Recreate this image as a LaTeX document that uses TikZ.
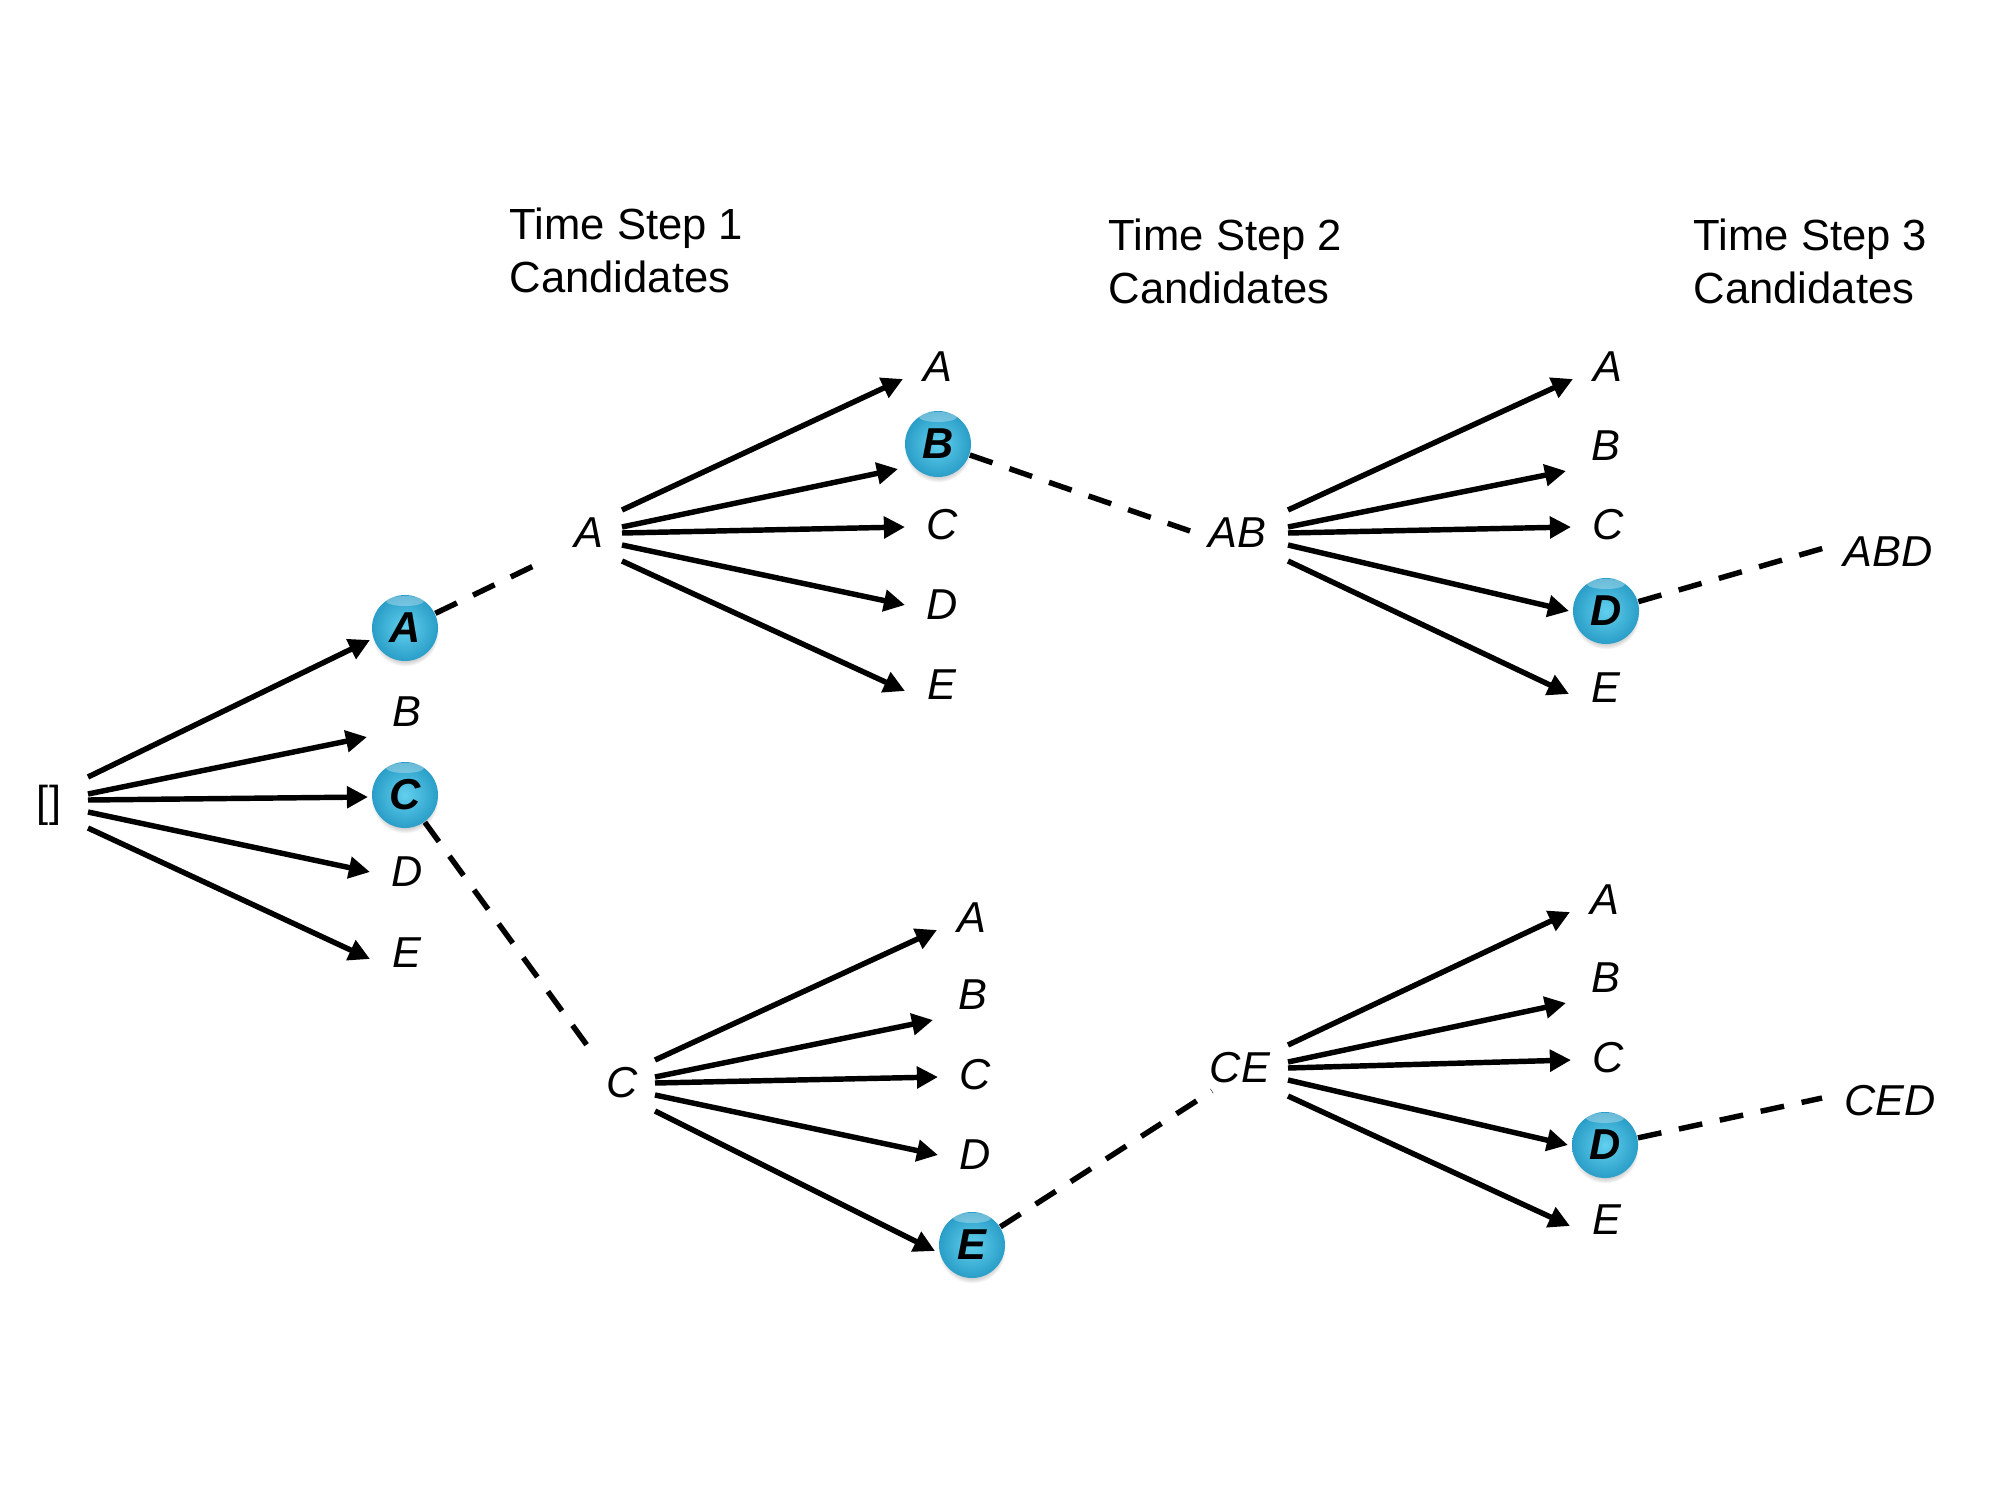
\documentclass[tikz,border=0pt]{standalone}
\usepackage{fontspec}
\setmainfont{Liberation Sans}
\usetikzlibrary{arrows.meta,calc,shadows}
\definecolor{ballin}{RGB}{98,208,238}
\definecolor{ballout}{RGB}{42,158,200}
\newcommand\fanout[8]{%
  \draw[arr] ($(#1)+(#2,#3)+(0,-23)$) -- ($(#4)+(-35,12)$);
  \draw[arr] ($(#1)+(#2,#3)+(0,-6)$) -- ($(#5)+(-40,25)$);
  \draw[arr] ($(#1)+(#2,#3)+(0,0)$) -- ($(#6)+(-37,2)$);
  \draw[arr] ($(#1)+(#2,#3)+(0,12)$) -- ($(#7)+(-37,0)$);
  \draw[arr] ($(#1)+(#2,#3)+(0,28)$) -- ($(#8)+(-37,6)$);}
\begin{document}
\begin{tikzpicture}[x=0.01cm,y=-0.01cm,
  lbl/.style={font=\fontsize{12.3}{15}\selectfont\itshape, inner sep=0pt},
  ball/.style={circle, minimum size=0.66cm, inner sep=0pt, shading=radial,
    inner color=ballin, outer color=ballout,
    circular drop shadow={shadow xshift=0pt, shadow yshift=-1.3pt, opacity=0.35, shadow scale=1.02},
    path picture={\fill[white,opacity=0.3] ([yshift=-0.06cm]path picture bounding box.north) ellipse [x radius=0.19cm, y radius=0.05cm];},
    font=\fontsize{12.3}{15}\selectfont\bfseries\itshape},
  arr/.style={line width=1.55pt, -{Triangle[length=6pt,width=6pt]}},
  dline/.style={line width=1.55pt, dash pattern=on 6.8pt off 5.1pt},
  head/.style={anchor=north west, align=left, inner sep=0pt, font=\fontsize{12.4}{15}\selectfont}]
\useasboundingbox (0,0) rectangle (2000,1500);
\fill[white] (0,0) rectangle (2000,1500);

% headers
\node[head] (h1) at (509,207) {Time Step 1\\Candidates};
\node[head] (h2) at (1108,218) {Time Step 2\\Candidates};
\node[head] (h3) at (1693,218) {Time Step 3\\Candidates};

% root
\node[lbl, font=\fontsize{12.3}{15}\selectfont] (r) at (49,805) {[]};

% column 1
\node[ball] (a1) at (405,628) {A};
\node[lbl]  (b1) at (407,712) {B};
\node[ball] (c1) at (405,795) {C};
\node[lbl]  (d1) at (407,872) {D};
\node[lbl]  (e1) at (407,953) {E};

% parents step 1
\node[lbl] (pA) at (589,533) {A};
\node[lbl] (pC) at (622,1083) {C};

% column 2 upper
\node[lbl]  (ua) at (938,367) {A};
\node[ball] (ub) at (938,444) {B};
\node[lbl]  (uc) at (942,525) {C};
\node[lbl]  (ud) at (942,605) {D};
\node[lbl]  (ue) at (942,685) {E};
% column 2 lower
\node[lbl]  (la) at (972,918) {A};
\node[lbl]  (lb) at (973,995) {B};
\node[lbl]  (lc) at (975,1075) {C};
\node[lbl]  (ld) at (975,1155) {D};
\node[ball] (le) at (972,1245) {E};

% parents step 2
\node[lbl] (pAB) at (1237,533) {AB};
\node[lbl] (pCE) at (1240,1068) {CE};

% column 3 upper
\node[lbl]  (xa) at (1608,367) {A};
\node[lbl]  (xb) at (1606,446) {B};
\node[lbl]  (xc) at (1608,525) {C};
\node[ball] (xd) at (1606,611) {D};
\node[lbl]  (xe) at (1606,688) {E};
% column 3 lower
\node[lbl]  (ya) at (1605,900) {A};
\node[lbl]  (yb) at (1606,978) {B};
\node[lbl]  (yc) at (1608,1058) {C};
\node[ball] (yd) at (1605,1145) {D};
\node[lbl]  (ye) at (1607,1220) {E};

% terminals
\node[lbl] (abd) at (1888,552) {ABD};
\node[lbl] (ced) at (1890,1101) {CED};

% fans
\fanout{r}{39}{-5}{a1}{b1}{c1}{d1}{e1}
\fanout{pA}{33}{0}{ua}{ub}{uc}{ud}{ue}
\fanout{pC}{33}{0}{la}{lb}{lc}{ld}{le}
\fanout{pAB}{51}{0}{xa}{xb}{xc}{xd}{xe}
\fanout{pCE}{48}{0}{ya}{yb}{yc}{yd}{ye}

% dashed selections
\draw[dline] (a1) -- ($(pA)+(-41,26)$);
\draw[dline] (c1) -- ($(pC)+(-33,-35)$);
\draw[dline] (ub) -- ($(pAB)+(-47,-2)$);
\draw[dline] (le) -- ($(pCE)+(-28,23)$);
\draw[dline] (xd) -- ($(abd)+(-64,-4)$);
\draw[dline] (yd) -- ($(ced)+(-68,-3)$);
\end{tikzpicture}
\end{document}
